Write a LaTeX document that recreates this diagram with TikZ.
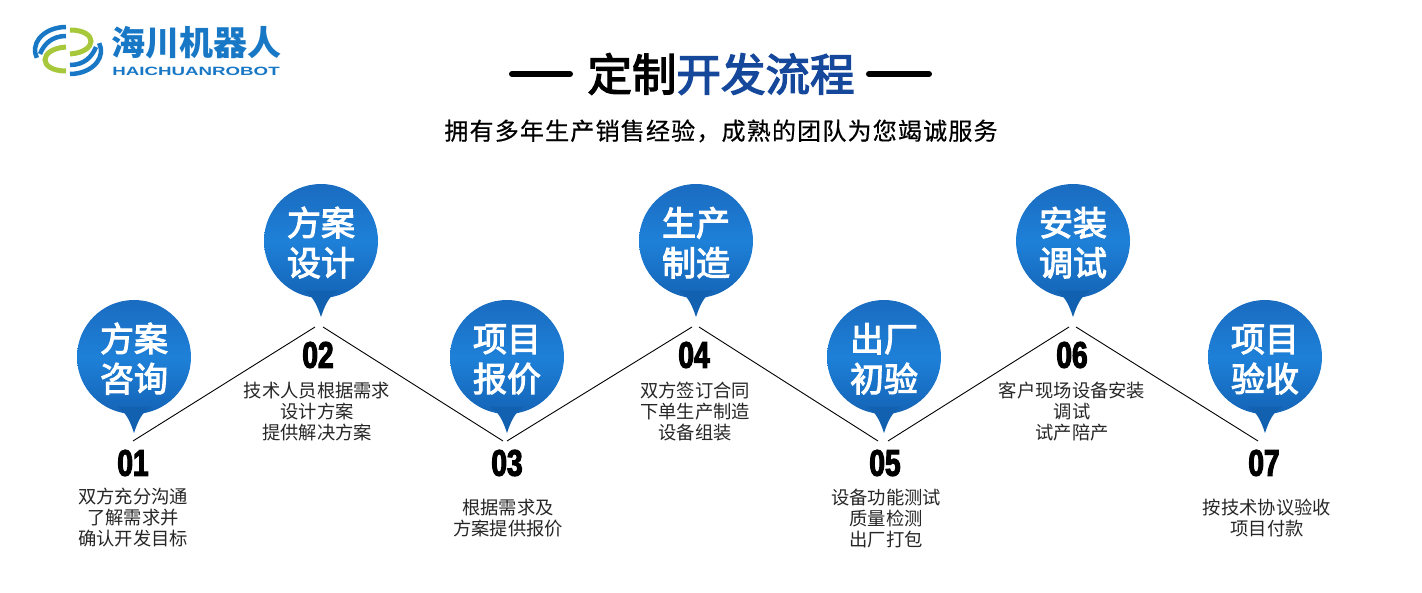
\documentclass[tikz,border=0pt]{standalone}
\usepackage{fontspec}
\usetikzlibrary{positioning}
\setmainfont{Noto Sans CJK SC}
\newfontfamily\numfont[FakeStretch=0.76,FakeBold=3]{Liberation Sans Bold}
\newfontfamily\logofont[FakeStretch=1.56]{Liberation Sans Bold}
\newfontfamily\subfont[LetterSpace=5,FakeBold=0.5]{Noto Sans CJK SC}
\newfontfamily\headfont[FakeBold=3]{Noto Sans CJK SC}
\definecolor{pintop}{HTML}{1A6CC0}
\definecolor{pinmid}{HTML}{1E80D8}
\definecolor{pinlow}{HTML}{1464B6}
\definecolor{tailblue}{HTML}{1260B0}
\definecolor{titleblue}{HTML}{15479B}
\definecolor{logoblue}{HTML}{1878C6}
\definecolor{logogreen}{HTML}{A8C83C}

\begin{document}
\begin{tikzpicture}[
    x=1pt, y=-1pt,
    pin/.style={circle, minimum size=114pt, inner sep=0pt, outer sep=0pt, top color=pintop, bottom color=pinlow, middle color=pinmid, text=white, font=\fontsize{34}{40}\headfont, align=center, text height=72pt},
    tail/.style={fill=tailblue, insert path={++(-17,-7) .. controls +(9,5) and +(-4,-12) .. ++(17,26) .. controls +(4,-12) and +(-9,5) .. ++(17,-26) -- cycle}},
    num/.style={font=\fontsize{37}{37}\numfont, text=black, inner sep=0pt},
    caption/.style={font=\fontsize{18.3}{21}\selectfont, text=black!85, align=center, inner sep=0pt},
    link/.style={draw=black, line width=0.9pt},
    dashbar/.style={line width=6pt, line cap=round, draw=black},
    logoarc/.style={line width=4.5pt, draw=logoblue},
    logoarcg/.style={line width=5pt, draw=logogreen}
]
\useasboundingbox (0,0) rectangle (1422,593);

% logo
\draw[logoarc] (66,27) arc (270:160:31 and 23);
\draw[logoarc] (70,74) arc (90:-20:31 and 23);
\draw[logoarc] (66,36) .. controls (52,36) and (44,44) .. (40,54);
\draw[logoarc] (70,65) .. controls (84,65) and (92,57) .. (96,47);
\draw[logoarcg] (70,30) .. controls (98,30) and (98,52) .. (70,54);
\draw[logoarcg] (66,71) .. controls (38,71) and (38,49) .. (66,47);
\node[inner sep=0pt, text=logoblue, font=\fontsize{34}{34}\selectfont\bfseries] (logocn) at (196,43) {海川机器人};
\node[inner sep=0pt, text=logoblue, font=\fontsize{12}{12}\logofont, below=7pt of logocn] (logoen) {HAICHUANROBOT};

% title
\node[inner sep=0pt, font=\fontsize{44.5}{50}\headfont] (title) at (721,74) {定制\textcolor{titleblue}{开发流程}};
\node[inner sep=0pt, font=\fontsize{24}{28}\subfont] (subtitle) at (721,131) {拥有多年生产销售经验，成熟的团队为您竭诚服务};
\coordinate (barla) at (512,74);
\coordinate (barlb) at (570,74);
\coordinate (barra) at (869,74);
\coordinate (barrb) at (929,74);
\draw[dashbar] (barla) -- (barlb);
\draw[dashbar] (barra) -- (barrb);

% pins
\node[pin] (pina) at (134,357) {方案\\咨询};
\node[pin] (pinb) at (321,241) {方案\\设计};
\node[pin] (pinc) at (507,357) {项目\\报价};
\node[pin] (pind) at (696,241) {生产\\制造};
\node[pin] (pine) at (884,357) {出厂\\初验};
\node[pin] (pinf) at (1073,241) {安装\\调试};
\node[pin] (ping) at (1265,357) {项目\\验收};
\fill (pina.south) [tail];
\fill (pinb.south) [tail];
\fill (pinc.south) [tail];
\fill (pind.south) [tail];
\fill (pine.south) [tail];
\fill (pinf.south) [tail];
\fill (ping.south) [tail];

% numbers
\node[num] (numa) at (133,463) {01};
\node[num] (numb) at (318,355) {02};
\node[num] (numc) at (507,463) {03};
\node[num] (numd) at (694,355) {04};
\node[num] (nume) at (885,463) {05};
\node[num] (numf) at (1072,355) {06};
\node[num] (numg) at (1264,463) {07};

% captions
\node[caption] (capa) at (133,518) {双方充分沟通\\了解需求并\\确认开发目标};
\node[caption] (capb) at (317,412) {技术人员根据需求\\设计方案\\提供解决方案};
\node[caption] (capc) at (508,518) {根据需求及\\方案提供报价};
\node[caption] (capd) at (695,412) {双方签订合同\\下单生产制造\\设备组装};
\node[caption] (cape) at (886,518) {设备功能测试\\质量检测\\出厂打包};
\node[caption] (capf) at (1072,412) {客户现场设备安装\\调试\\试产陪产};
\node[caption] (capg) at (1267,518) {按技术协议验收\\项目付款};

% zigzag
\coordinate (lowa) at (133,441);
\coordinate (higha) at (315,327);
\coordinate (highb) at (323,327);
\coordinate (lowb) at (503,441);
\coordinate (lowc) at (507,441);
\coordinate (highc) at (692,327);
\coordinate (highd) at (699,327);
\coordinate (lowd) at (878,441);
\coordinate (lowe) at (888,441);
\coordinate (highe) at (1069,327);
\coordinate (highf) at (1076,327);
\coordinate (lowf) at (1258,441);
\draw[link] (lowa) -- (higha);
\draw[link] (highb) -- (lowb);
\draw[link] (lowc) -- (highc);
\draw[link] (highd) -- (lowd);
\draw[link] (lowe) -- (highe);
\draw[link] (highf) -- (lowf);
\end{tikzpicture}
\end{document}
